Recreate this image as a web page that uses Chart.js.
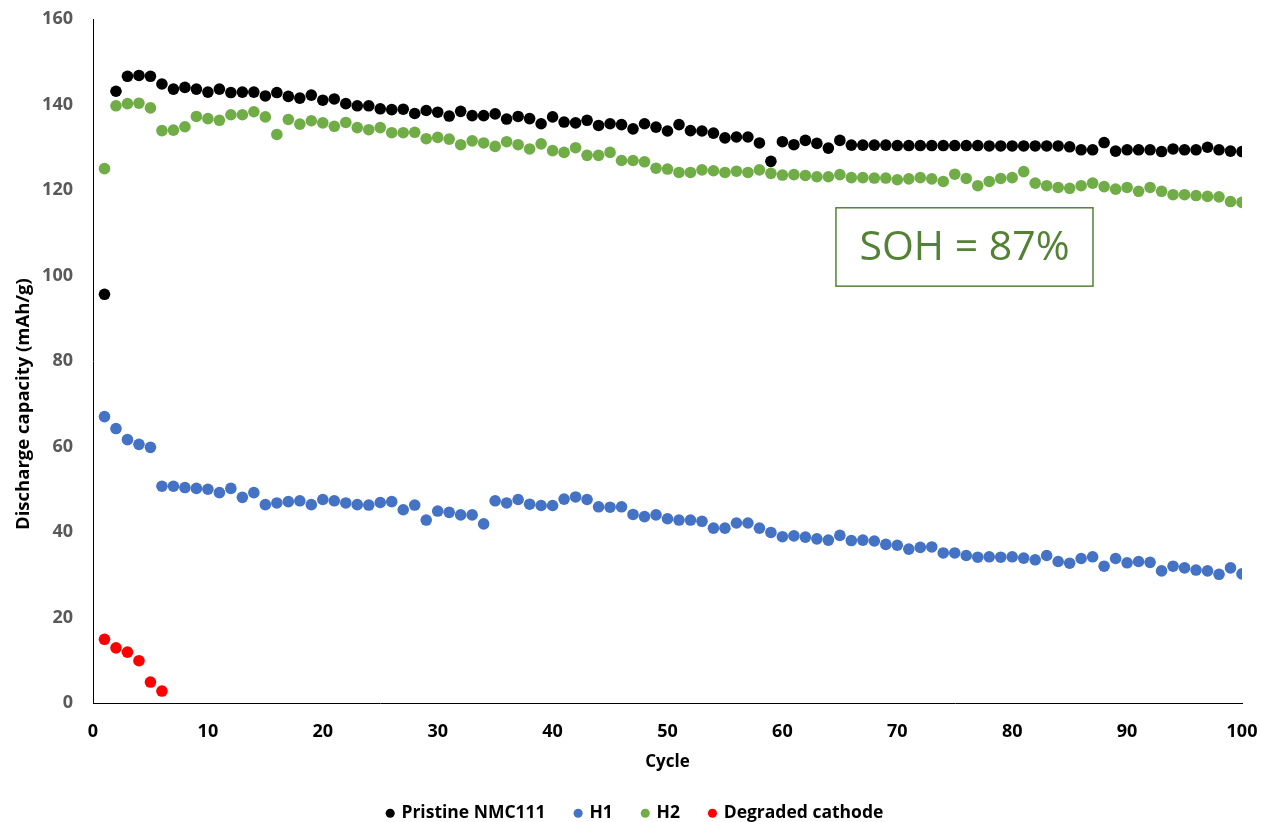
<!DOCTYPE html>
<html>
<head>
<meta charset="utf-8">
<script src="https://cdn.jsdelivr.net/npm/chart.js@4.4.1/dist/chart.umd.min.js"></script>
<style>
  html, body { margin: 0; padding: 0; background: #ffffff; }
  #wrap { width: 1261px; height: 822px; }
</style>
</head>
<body>
<div id="wrap"><canvas id="c" width="1261" height="822"></canvas></div>
<script>
// Cycle numbers
const cycles = [1,2,3,4,5,6,7,8,9,10,11,12,13,14,15,16,17,18,19,20,
  21,22,23,24,25,26,27,28,29,30,31,32,33,34,35,36,37,38,39,40,
  41,42,43,44,45,46,47,48,49,50,51,52,53,54,55,56,57,58,59,60,
  61,62,63,64,65,66,67,68,69,70,71,72,73,74,75,76,77,78,79,80,
  81,82,83,84,85,86,87,88,89,90,91,92,93,94,95,96,97,98,99,100];

// Discharge capacity (mAh/g) per cycle
const pristine = [95.6,143.1,146.6,146.8,146.6,144.8,143.6,144.0,143.6,142.9,
  143.6,142.8,142.9,142.9,142.0,142.8,141.9,141.5,142.2,141.0,
  141.3,140.2,139.7,139.7,139.0,138.8,138.9,137.9,138.6,138.2,
  137.3,138.4,137.4,137.4,137.8,136.6,137.2,136.7,135.5,137.1,
  135.9,135.7,136.3,135.1,135.5,135.3,134.3,135.5,134.7,133.8,
  135.3,133.9,133.8,133.3,132.2,132.4,132.4,131.0,126.7,131.3,
  130.6,131.6,130.9,129.8,131.6,130.5,130.5,130.5,130.5,130.4,
  130.4,130.4,130.4,130.4,130.4,130.4,130.4,130.3,130.3,130.3,
  130.3,130.3,130.3,130.3,130.1,129.4,129.4,131.1,129.1,129.4,
  129.4,129.4,129.0,129.6,129.4,129.4,130.0,129.4,129.1,129.0];

const h1 = [67.0,64.2,61.6,60.5,59.8,50.7,50.7,50.4,50.2,50.0,
  49.2,50.2,48.1,49.2,46.4,46.8,47.1,47.3,46.4,47.6,
  47.3,46.8,46.4,46.3,46.9,47.1,45.2,46.3,42.8,44.9,
  44.6,44.0,44.0,41.9,47.3,46.8,47.6,46.5,46.2,46.2,
  47.7,48.2,47.6,45.9,45.8,45.9,44.1,43.6,44.0,43.1,
  42.8,42.8,42.5,40.9,40.9,42.1,42.1,40.9,39.9,38.9,
  39.1,38.8,38.4,38.1,39.2,38.0,38.1,37.9,37.1,36.9,
  36.0,36.4,36.5,35.1,35.1,34.5,34.1,34.2,34.1,34.2,
  33.9,33.5,34.5,33.1,32.7,33.8,34.2,32.0,33.8,32.8,
  33.1,32.9,30.9,32.0,31.6,31.1,30.9,30.1,31.6,30.2];

const h2 = [125.0,139.7,140.2,140.3,139.2,133.9,134.0,134.8,137.2,136.7,
  136.3,137.6,137.6,138.3,137.1,133.0,136.5,135.4,136.2,135.7,
  134.9,135.8,134.6,134.1,134.6,133.4,133.4,133.5,132.0,132.3,
  131.9,130.6,131.5,131.0,130.2,131.3,130.6,129.6,130.8,129.2,
  128.8,129.9,128.1,128.1,128.8,126.9,126.9,126.6,125.1,124.9,
  124.1,124.1,124.7,124.5,124.1,124.4,124.1,124.7,123.9,123.5,
  123.6,123.4,123.1,123.1,123.6,122.9,122.9,122.8,122.8,122.4,
  122.6,122.9,122.6,122.0,123.7,122.7,121.0,122.0,122.7,122.9,
  124.3,121.6,121.0,120.6,120.4,121.0,121.6,120.8,120.2,120.6,
  119.7,120.6,119.7,118.9,118.9,118.7,118.5,118.4,117.3,117.1];

const degradedCycles = [1,2,3,4,5,6];
const degraded = [14.9,12.9,11.9,9.9,4.9,2.8];

const seriesLabels = ['Pristine NMC111', 'H1', 'H2', 'Degraded cathode'];
const xTicks = [0,10,20,30,40,50,60,70,80,90,100];
const yTicks = [0,20,40,60,80,100,120,140,160];
const sohText = 'SOH = 87%';

const toPoints = (xs, ys) => ys.map((y, i) => ({ x: xs[i], y }));

Chart.defaults.font.family = "'Open Sans', sans-serif";

function series(label, xs, ys, color) {
  return {
    label,
    data: toPoints(xs, ys),
    backgroundColor: color,
    borderColor: color,
    pointBackgroundColor: color,
    pointBorderWidth: 0,
    borderWidth: 0,
    pointRadius: 5.8,
    pointHoverRadius: 5.8,
    showLine: false
  };
}

// Y-axis title and the SOH annotation box
const overlay = {
  id: 'overlay',
  afterDraw(chart) {
    const { ctx, chartArea: a } = chart;
    const w = a.right - a.left, h = a.bottom - a.top;

    ctx.save();
    ctx.translate(24, a.top + h * 0.563);
    ctx.rotate(-Math.PI / 2);
    ctx.font = "bold 18.5px 'Open Sans', sans-serif";
    ctx.fillStyle = '#000000';
    ctx.textAlign = 'center';
    ctx.textBaseline = 'middle';
    ctx.fillText('Discharge capacity (mAh/g)', 0, 0);
    ctx.restore();

    const bx = a.left + w * 0.6466, by = a.top + h * 0.276;
    const bw = w * 0.2237, bh = h * 0.1146;
    ctx.save();
    ctx.fillStyle = '#ffffff';
    ctx.fillRect(bx, by, bw, bh);
    ctx.strokeStyle = '#548235';
    ctx.lineWidth = 1.5;
    ctx.strokeRect(bx, by, bw, bh);
    ctx.font = "41px 'Open Sans', sans-serif";
    ctx.fillStyle = '#548235';
    ctx.textAlign = 'center';
    ctx.textBaseline = 'middle';
    ctx.fillText(sohText, bx + bw / 2, by + bh / 2 + 1);
    ctx.restore();
  }
};

new Chart(document.getElementById('c'), {
  type: 'scatter',
  data: {
    datasets: [
      series(seriesLabels[0], cycles, pristine, '#000000'),
      series(seriesLabels[1], cycles, h1, '#4472C4'),
      series(seriesLabels[2], cycles, h2, '#70AD47'),
      series(seriesLabels[3], degradedCycles, degraded, '#FF0000')
    ]
  },
  options: {
    responsive: false,
    animation: false,
    events: [],
    layout: { padding: { left: 29, right: 19, top: 19, bottom: -10 } },
    plugins: {
      tooltip: { enabled: false },
      legend: {
        position: 'bottom',
        labels: {
          usePointStyle: true,
          pointStyle: 'circle',
          boxWidth: 5,
          boxHeight: 6.4,
          padding: 30,
          color: '#000000',
          font: { size: 17.5, weight: 'bold' }
        }
      }
    },
    scales: {
      x: {
        type: 'linear',
        min: 0, max: 100,
        afterBuildTicks(scale) { scale.ticks = xTicks.map(v => ({ value: v })); },
        afterFit(scale) { scale.paddingLeft = 0; scale.paddingRight = 0; },
        grid: { display: false, drawTicks: false },
        border: { display: true, color: '#000000', width: 1 },
        ticks: { color: '#000000', font: { size: 18, weight: 'bold' }, padding: 18.5 },
        title: { display: true, text: 'Cycle', color: '#000000',
                 font: { size: 17, weight: 'bold' }, padding: { top: -9.5, bottom: 2 } }
      },
      y: {
        min: 0, max: 160,
        afterBuildTicks(scale) { scale.ticks = yTicks.map(v => ({ value: v })); },
        afterFit(scale) { scale.width = 64; scale.paddingTop = 0; scale.paddingBottom = 0; },
        grid: { display: false, drawTicks: false },
        border: { display: true, color: '#000000', width: 1 },
        ticks: { color: '#595959', font: { size: 18, weight: 'bold' }, padding: 20 }
      }
    }
  },
  plugins: [overlay]
});
</script>
</body>
</html>
